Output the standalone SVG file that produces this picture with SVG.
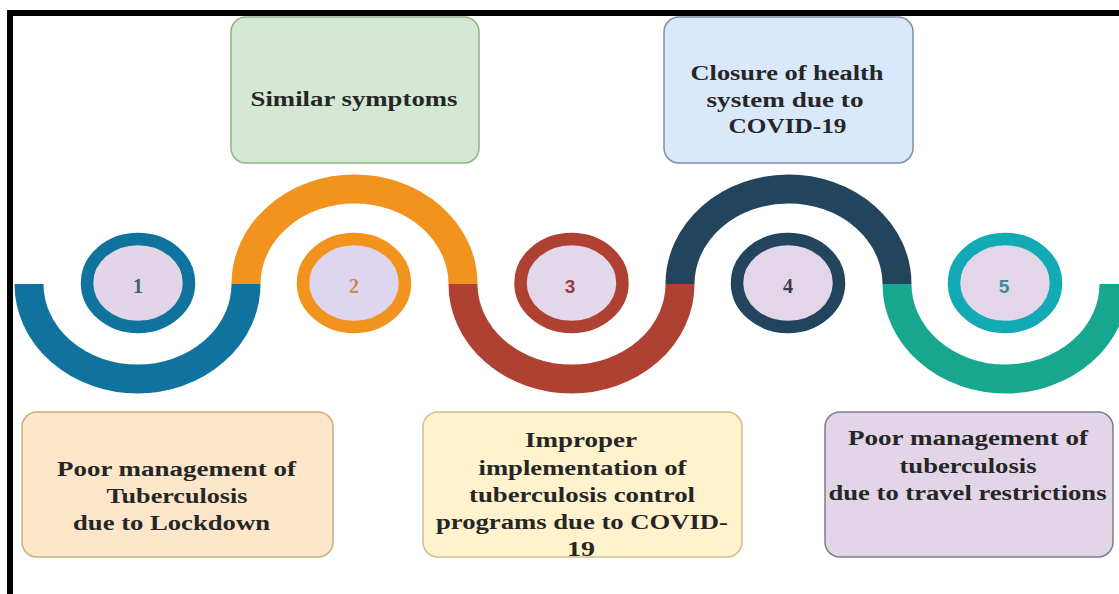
<svg xmlns="http://www.w3.org/2000/svg" width="1119" height="594" viewBox="0 0 1119 594">
<style>
.frame{fill:#000}
.arc{fill:none;stroke-width:29;stroke-linecap:butt}
.ring{stroke-width:12.5}
.num{font-family:"Liberation Serif",serif;font-weight:bold;font-size:20px;text-anchor:middle}
.nums{font-family:"Liberation Sans",sans-serif;font-weight:bold;font-size:19px;text-anchor:middle}
.box{stroke-width:1.5}
.lbl{font-family:"Liberation Serif",serif;font-weight:bold;font-size:20.5px;text-anchor:middle;fill:#262626}
</style>
<rect width="1119" height="594" fill="#fff"/>
<g id="frame">
<rect class="frame" x="7" y="10" width="1112" height="6"/>
<rect class="frame" x="7" y="10" width="6" height="584"/>
</g>
<g id="connectors">
<path class="arc" stroke="#10739e" d="M29,284 A108.5,95 0 0 0 246,284"/>
<path class="arc" stroke="#f2931e" d="M246,284 A108.5,95 0 0 1 463,284"/>
<path class="arc" stroke="#ae4132" d="M463,284 A108.5,95 0 0 0 680,284"/>
<path class="arc" stroke="#23445d" d="M680,284 A108.5,95 0 0 1 897,284"/>
<path class="arc" stroke="#17a68e" d="M897,284 A108.5,95 0 0 0 1114,284"/>
</g>
<g id="step1">
<ellipse class="ring" cx="138" cy="283" rx="51" ry="44" fill="#e3d5e8" stroke="#10739e"/>
<text class="num" x="138" y="293" fill="#3f5f7e">1</text>
</g>
<g id="step2">
<ellipse class="ring" cx="354" cy="283" rx="51" ry="44" fill="#ddd6ee" stroke="#f2931e"/>
<text class="num" x="354" y="293" fill="#c98a4b">2</text>
</g>
<g id="step3">
<ellipse class="ring" cx="571.5" cy="283" rx="51" ry="44" fill="#e3d8ea" stroke="#ae4132"/>
<text class="nums" x="570" y="293" fill="#9b3b3b">3</text>
</g>
<g id="step4">
<ellipse class="ring" cx="788" cy="283" rx="51" ry="44" fill="#e2d6e8" stroke="#23445d"/>
<text class="num" x="788" y="293" fill="#3a3a48">4</text>
</g>
<g id="step5">
<ellipse class="ring" cx="1005" cy="283" rx="51" ry="44" fill="#e3d6e8" stroke="#12aab5"/>
<text class="nums" x="1004" y="293" fill="#3e8a9a">5</text>
</g>
<g id="box-similar">
<rect class="box" x="231" y="17" width="248" height="146" rx="15" fill="#d5e8d4" stroke="#93b28a"/>
<text class="lbl" x="354" y="106" textLength="207" lengthAdjust="spacingAndGlyphs">Similar symptoms</text>
</g>
<g id="box-closure">
<rect class="box" x="664" y="17" width="249" height="146" rx="15" fill="#dae8fc" stroke="#7f8fa8"/>
<text class="lbl" x="787" y="80" textLength="193" lengthAdjust="spacingAndGlyphs">Closure of health</text>
<text class="lbl" x="785" y="106.7" textLength="157" lengthAdjust="spacingAndGlyphs">system due to</text>
<text class="lbl" x="787.5" y="133.3" textLength="118" lengthAdjust="spacingAndGlyphs">COVID-19</text>
</g>
<g id="box-lockdown">
<rect class="box" x="22" y="412" width="311" height="145" rx="15" fill="#fde6ca" stroke="#c9b07c"/>
<text class="lbl" x="176.5" y="476" textLength="239" lengthAdjust="spacingAndGlyphs">Poor management of</text>
<text class="lbl" x="177" y="503" textLength="141" lengthAdjust="spacingAndGlyphs">Tuberculosis</text>
<text class="lbl" x="171.5" y="530" textLength="197" lengthAdjust="spacingAndGlyphs">due to Lockdown</text>
</g>
<g id="box-improper">
<rect class="box" x="423" y="412" width="319" height="145" rx="15" fill="#fff2cc" stroke="#cdbf8e"/>
<text class="lbl" x="581" y="447" textLength="112" lengthAdjust="spacingAndGlyphs">Improper</text>
<text class="lbl" x="582.5" y="474.5" textLength="208" lengthAdjust="spacingAndGlyphs">implementation of</text>
<text class="lbl" x="582" y="501.5" textLength="226" lengthAdjust="spacingAndGlyphs">tuberculosis control</text>
<text class="lbl" x="582" y="528.5" textLength="292" lengthAdjust="spacingAndGlyphs">programs due to COVID-</text>
<text class="lbl" x="581" y="556" textLength="28" lengthAdjust="spacingAndGlyphs">19</text>
</g>
<g id="box-travel">
<rect class="box" x="825" y="412" width="288" height="145" rx="15" fill="#e1d5e7" stroke="#857a8c"/>
<text class="lbl" x="968" y="445" textLength="240" lengthAdjust="spacingAndGlyphs">Poor management of</text>
<text class="lbl" x="968" y="472.5" textLength="137" lengthAdjust="spacingAndGlyphs">tuberculosis</text>
<text class="lbl" x="967.5" y="500" textLength="278" lengthAdjust="spacingAndGlyphs">due to travel restrictions</text>
</g>
</svg>
